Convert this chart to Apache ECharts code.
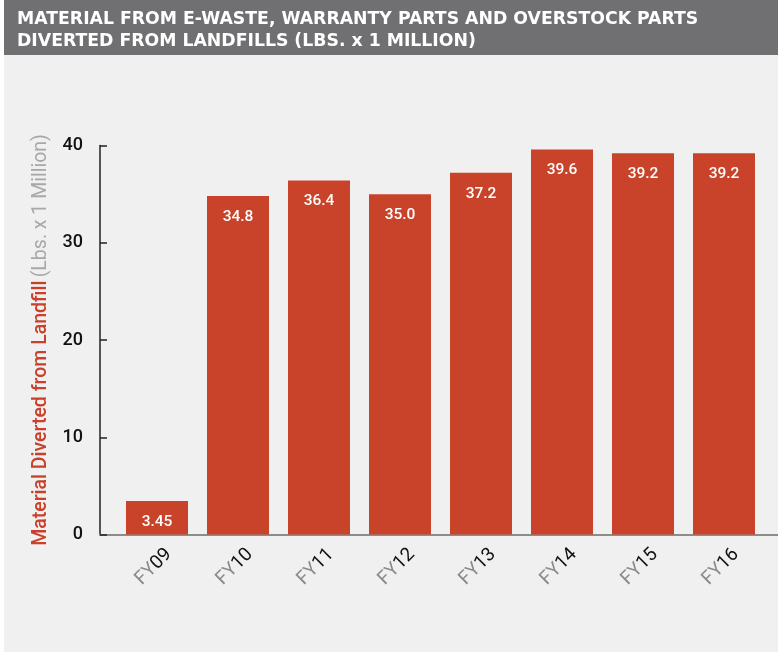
<!DOCTYPE html>
<html>
<head>
<meta charset="utf-8">
<script src="https://cdn.jsdelivr.net/npm/echarts@6/dist/echarts.min.js"></script>
<style>
html,body{margin:0;padding:0;background:#ffffff;}
#chart{position:absolute;left:4px;top:0;width:774px;height:652px;background:#f0f0f0;}
</style>
</head>
<body>
<div id="chart"></div>
<script>
const categories = ['FY09','FY10','FY11','FY12','FY13','FY14','FY15','FY16'];
const values = [3.45, 34.8, 36.4, 35.0, 37.2, 39.6, 39.2, 39.2];
const valueLabels = ['3.45','34.8','36.4','35.0','37.2','39.6','39.2','39.2'];
const yTicks = [0, 10, 20, 30, 40];
const titleLines = ['MATERIAL FROM E-WASTE, WARRANTY PARTS AND OVERSTOCK PARTS', 'DIVERTED FROM LANDFILLS (LBS. x 1 MILLION)'];
const axisNameMain = 'Material Diverted from Landfill';
const axisNameUnit = '(Lbs. x 1 Million)';

const chart = echarts.init(document.getElementById('chart'));
const yMin = yTicks[0], yMax = yTicks[yTicks.length-1], yInt = yTicks[1]-yTicks[0];
chart.setOption({
  backgroundColor: '#f0f0f0',
  animation: false,
  graphic: [{type:'rect', left:0, top:0, shape:{width:774, height:55}, style:{fill:'#707072'}, silent:true}],
  title: {
    text: titleLines.join('\n'), left: 8, top: 4,
    textStyle: {color:'#ffffff', fontFamily:'DejaVu Sans', fontWeight:'bold', fontSize:17.3, lineHeight:22}
  },
  grid: [
    {left:112.5, width:648, top:145.5, height:389, containLabel:false},
    {left:96, right:0, top:145.5, height:389, containLabel:false}
  ],
  xAxis: [
    {type:'category', gridIndex:0, data:categories, axisLine:{show:false}, axisTick:{show:false},
     axisLabel:{rotate:45, margin:29, interval:0, padding:[0,-17,0,0],
       formatter: v => '{a|' + v.slice(0,2) + '}{b|' + v.slice(2) + '}',
       rich:{a:{color:'#8a8a8a', fontSize:19, fontFamily:'Roboto'}, b:{color:'#111111', fontSize:19, fontFamily:'Roboto'}}}},
    {type:'value', gridIndex:1, min:0, max:1, axisLine:{show:true, lineStyle:{color:'#8c8c8c', width:2}},
     axisTick:{show:false}, axisLabel:{show:false}, splitLine:{show:false}}
  ],
  yAxis: [
    {type:'value', gridIndex:0, min:yMin, max:yMax, interval:yInt, show:false, splitLine:{show:false}},
    {type:'value', gridIndex:1, min:yMin, max:yMax, interval:yInt,
     axisLine:{show:true, lineStyle:{color:'#222222', width:1.5}},
     axisTick:{show:true, inside:true, length:7, lineStyle:{color:'#222222', width:1.5}},
     axisLabel:{color:'#111111', fontSize:18, fontFamily:'Roboto', fontWeight:500, margin:17},
     splitLine:{show:false},
     name: '{m|' + axisNameMain + '} {u|' + axisNameUnit + '}',
     nameLocation:'middle', nameGap:49, nameRotate:90,
     nameTextStyle:{rich:{m:{color:'#c9412b', fontSize:19.5, fontFamily:'Roboto', fontWeight:500}, u:{color:'#a8a8a8', fontSize:19.5, fontFamily:'Roboto'}}}}
  ],
  series: [{
    type:'bar', xAxisIndex:0, yAxisIndex:0, data:values, barWidth:62,
    itemStyle:{color:'#c9432b'},
    label:{show:true, position:'insideTop', distance:13, color:'#ffffff', fontSize:15.5, fontFamily:'Roboto', fontWeight:500,
      formatter: p => valueLabels[p.dataIndex]}
  }]
});
</script>
</body>
</html>
